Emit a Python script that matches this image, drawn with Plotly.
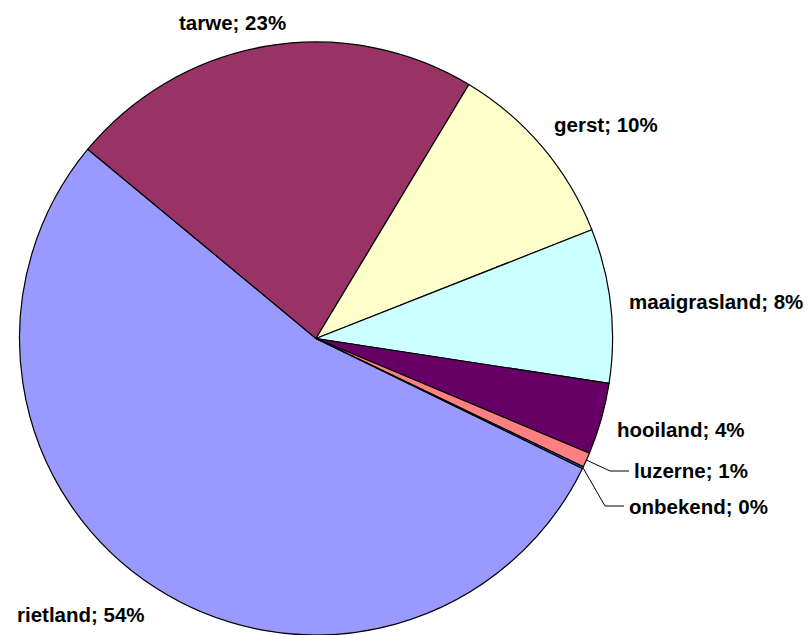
import math
import plotly.graph_objects as go

# Data
categories = ["rietland", "tarwe", "gerst", "maaigrasland", "hooiland", "luzerne", "onbekend"]
shares = [53.8, 22.6, 10.4, 8.4, 3.9, 0.8, 0.1]
colors = ["#9999FF", "#993366", "#FFFFCC", "#CCFFFF", "#660066", "#FF8080", "#0066CC"]

W, H = 808, 635
CX, CY, R = 316, 338.5, 296.5
ROTATION = 116.0

total = sum(shares)
labels_txt = [f"{c}; {round(v / total * 100):.0f}%" for c, v in zip(categories, shares)]

fig = go.Figure(go.Pie(
    labels=categories,
    values=shares,
    sort=False,
    direction="clockwise",
    rotation=ROTATION,
    marker=dict(colors=colors, line=dict(color="black", width=1.2)),
    textinfo="none",
    hoverinfo="label+percent",
    showlegend=False,
    domain=dict(x=[(CX - R) / W, (CX + R) / W], y=[(H - CY - R) / H, (H - CY + R) / H]),
))

# label placement (pixel positions of left edge / vertical centre)
label_pos = {
    "rietland": (15, 614),
    "tarwe": (177, 22),
    "gerst": (552, 124),
    "maaigrasland": (627, 301),
    "hooiland": (615, 429),
    "luzerne": (632, 471),
    "onbekend": (627, 506),
}
leader = {
    "luzerne": (610, 471),
    "onbekend": (605, 506),
}

def px(x, y):
    return x / W, 1 - y / H

annotations = []
shapes = []
acc = 0.0
for cat, v, txt in zip(categories, shares, labels_txt):
    mid = ROTATION + (acc + v / 2) / total * 360
    acc += v
    lx, ly = label_pos[cat]
    ax, ay = px(lx, ly)
    annotations.append(dict(
        x=ax, y=ay, xref="paper", yref="paper", text=f"<b>{txt}</b>",
        showarrow=False, xanchor="left", yanchor="middle",
        font=dict(family="Liberation Sans, Arial, sans-serif", size=20.5, color="black"),
    ))
    if cat in leader:
        a = math.radians(mid)
        sx, sy = CX + R * math.sin(a), CY - R * math.cos(a)
        kx, ky = leader[cat]
        ex, ey = lx - 3, ly
        p = [px(sx, sy), px(kx, ky), px(ex, ey)]
        path = "M {} {} L {} {} L {} {}".format(p[0][0], p[0][1], p[1][0], p[1][1], p[2][0], p[2][1])
        shapes.append(dict(type="path", xref="paper", yref="paper", path=path,
                           line=dict(color="black", width=1)))

fig.update_layout(
    width=W, height=H,
    margin=dict(l=0, r=0, t=0, b=0),
    paper_bgcolor="white", plot_bgcolor="white",
    annotations=annotations, shapes=shapes,
)

fig.write_html("out.html", config={"displayModeBar": False},
               post_script="document.body.style.margin='0';document.body.style.overflow='hidden';")
